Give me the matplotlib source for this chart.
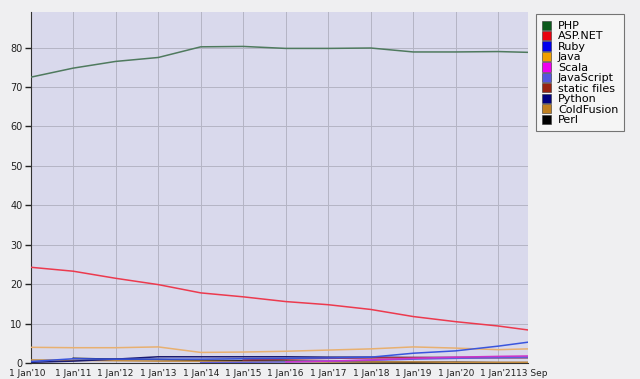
import matplotlib
matplotlib.use("Agg")
import matplotlib.pyplot as plt
import matplotlib.transforms as mtransforms
from matplotlib.patches import Patch
import datetime as dt

dates = [dt.date(y, 1, 1) for y in range(2010, 2022)] + [dt.date(2021, 9, 13)]
tick_labels = ["1 Jan'10", "1 Jan'11", "1 Jan'12", "1 Jan'13", "1 Jan'14", "1 Jan'15",
               "1 Jan'16", "1 Jan'17", "1 Jan'18", "1 Jan'19", "1 Jan'20", "1 Jan'21", "13 Sep"]

php        = [72.5, 74.8, 76.5, 77.5, 80.2, 80.3, 79.8, 79.8, 79.9, 78.9, 78.9, 79.0, 78.8]
aspnet     = [24.3, 23.3, 21.5, 19.9, 17.8, 16.8, 15.6, 14.8, 13.6, 11.8, 10.5, 9.4, 8.4]
ruby       = [0.4, 1.1, 1.0, 1.0, 1.0, 1.1, 1.2, 1.3, 1.5, 2.5, 3.1, 4.3, 5.3]
java       = [4.0, 3.9, 3.9, 4.1, 2.7, 2.8, 3.0, 3.3, 3.6, 4.1, 3.8, 3.4, 3.6]
scala      = [None, None, None, None, None, None, 0.3, 0.5, 0.8, 1.2, 1.5, 1.7, 1.8]
javascript = [None, None, None, None, 0.1, 0.2, 0.3, 0.5, 0.7, 1.0, 1.2, 1.4, 1.5]
static     = [None, None, None, None, None, 0.8, 1.0, 1.2, 1.3, 1.4, 1.4, 1.4, 1.4]
python     = [0.2, 0.5, 1.0, 1.6, 1.6, 1.6, 1.6, 1.5, 1.5, 1.4, 1.4, 1.4, 1.4]
coldfusion = [0.8, 0.7, 0.6, 0.5, 0.5, 0.4, 0.4, 0.3, 0.3, 0.3, 0.2, 0.2, 0.2]
perl       = [None, 1.2, 1.0, 0.9, 0.7, 0.6, 0.5, 0.4, 0.3, 0.2, 0.2, 0.1, 0.1]

series = [
    ("PHP", php, "#0b5a1c", "#4f7a5e"),
    ("ASP.NET", aspnet, "#e8000f", "#ec3a4e"),
    ("Ruby", ruby, "#0000ee", "#3a55dd"),
    ("Java", java, "#f0a000", "#e8b070"),
    ("Scala", scala, "#ee00ee", "#cc33cc"),
    ("JavaScript", javascript, "#5555dd", "#6060d8"),
    ("static files", static, "#992211", "#aa3344"),
    ("Python", python, "#000080", "#1a1a70"),
    ("ColdFusion", coldfusion, "#c08020", "#c08a40"),
    ("Perl", perl, "#000000", "#000000"),
]

fig = plt.figure(figsize=(6.4, 3.79), dpi=100, facecolor="#efeff1")
ax = fig.add_axes([0.048, 0.042, 0.777, 0.926])
ax.set_facecolor("#d9d9ec")

for name, vals, lc, col in reversed(series):
    xs = [d for d, v in zip(dates, vals) if v is not None]
    ys = [v for v in vals if v is not None]
    ax.plot(xs, ys, color=col, lw=1.1, zorder=3)

ax.set_ylim(0, 89)
ax.set_xlim(dates[0], dates[-1])
ax.set_yticks(range(0, 81, 10))
ax.set_xticks(dates)
ax.set_xticklabels(tick_labels)
ax.grid(True, color="#b4b4c4", lw=0.7, zorder=1)
ax.set_axisbelow(True)

ax.tick_params(axis="y", direction="out", length=4, width=1, labelsize=7, colors="#222222", pad=2)
ax.tick_params(axis="x", length=0, labelsize=6.5, colors="#222222", pad=4)
for s in ["top", "right"]:
    ax.spines[s].set_visible(False)
ax.spines["left"].set_color("#333333")
ax.spines["bottom"].set_color("#333333")

xl = ax.get_xticklabels()
shift = mtransforms.ScaledTranslation(4 / 100, 0, fig.dpi_scale_trans)
xl[-1].set_transform(xl[-1].get_transform() + shift)
shift0 = mtransforms.ScaledTranslation(-3 / 100, 0, fig.dpi_scale_trans)
xl[0].set_transform(xl[0].get_transform() + shift0)

handles = [Patch(facecolor=lc, edgecolor="#333333", lw=0.4, label=name) for name, _, lc, _ in series]
leg = fig.legend(handles=handles, loc="upper left", bbox_to_anchor=(0.838, 0.962),
                 fontsize=8, frameon=True, fancybox=False, handlelength=0.8, handleheight=0.9,
                 handletextpad=0.6, labelspacing=0.0, borderpad=0.55, borderaxespad=0)
leg.get_frame().set_edgecolor("#555555")
leg.get_frame().set_facecolor("#f7f7f7")
leg.get_frame().set_linewidth(0.8)

fig.savefig("out.png", dpi=100, facecolor=fig.get_facecolor())
